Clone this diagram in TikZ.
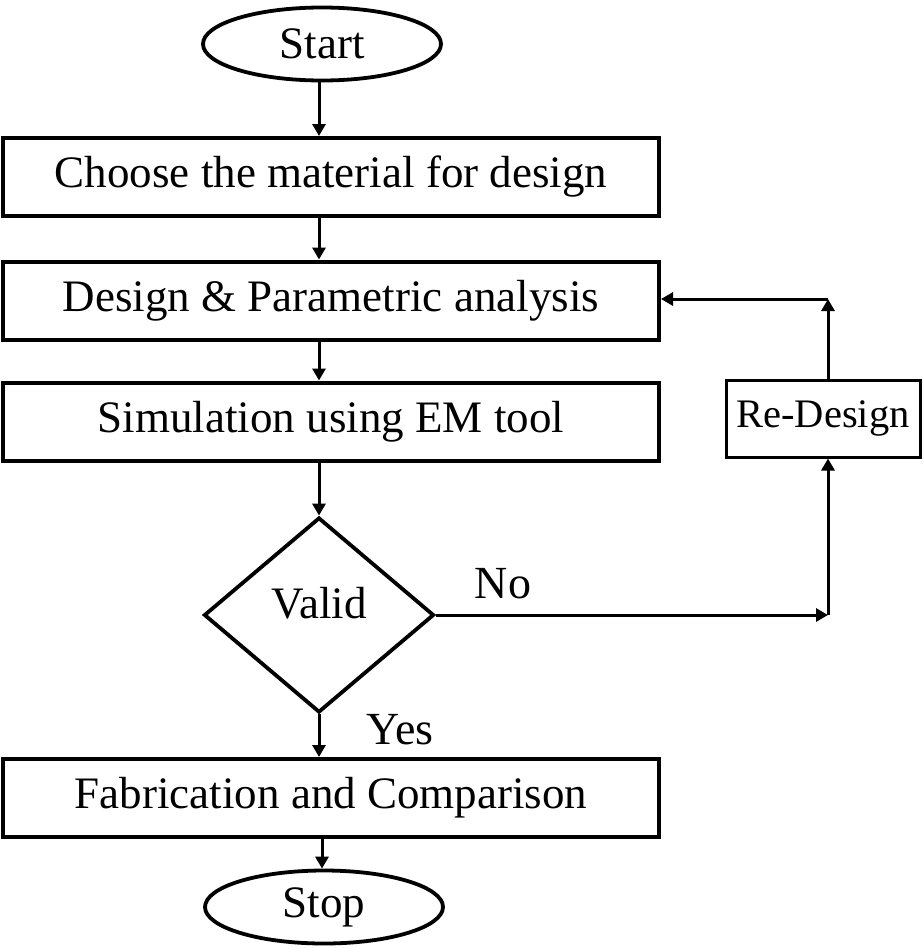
\documentclass[tikz,border=0pt]{standalone}
\usepackage{fontspec}
\setmainfont{Liberation Serif}
\usetikzlibrary{shapes.geometric,arrows.meta}

\begin{document}
\begin{tikzpicture}[x=1pt,y=-1pt,
  stepbox/.style={draw,line width=4pt,minimum width=656pt,minimum height=78pt,inner sep=0pt,font=\fontsize{45}{50}\selectfont},
  terminal/.style={draw,ellipse,line width=3.8pt,minimum width=238pt,minimum height=73pt,inner sep=0pt,font=\fontsize{45}{50}\selectfont},
  flow/.style={line width=3pt,-{Triangle[length=12pt,width=13pt]}}]
\useasboundingbox (0,0) rectangle (922,948);

% Shapes
\node[terminal] (start) at (322,44) {Start};
\node[stepbox] (material) at (331,177) {Choose the material for design};
\node[stepbox] (design) at (331,300.5) {Design \& Parametric analysis};
\node[stepbox] (simulation) at (331,421.5) {Simulation using EM tool};
\node[draw,diamond,line width=3.8pt,minimum width=230pt,minimum height=195pt,inner sep=0pt,font=\fontsize{45}{50}\selectfont] (valid) at (319,615) {\raisebox{-3pt}[0pt][0pt]{Valid}};
\node[stepbox] (fabrication) at (331,798) {Fabrication and Comparison};
\node[terminal] (stop) at (324,907) {Stop};
\node[draw,line width=3pt,minimum width=194pt,minimum height=77pt,inner sep=0pt,font=\fontsize{40.5}{45}\selectfont] (redesign) at (823,418.5) {Re-Design};

% Writing
\node[font=\fontsize{46}{50}\selectfont] (no) at (503,584) {No};
\node[font=\fontsize{46}{50}\selectfont] (yes) at (400,730) {Yes};

% Arrows
\coordinate (down) at (319,0);
\coordinate (cornerA) at (828,615);
\coordinate (cornerB) at (828,299);
\draw[flow] (start.south -| down) -- (material.north -| down);
\draw[flow] (material.south -| down) -- (design.north -| down);
\draw[flow] (design.south -| down) -- (simulation.north -| down);
\draw[flow] (simulation.south -| down) -- (valid.north);
\draw[flow] (valid.south) -- (fabrication.north -| valid.south);
\draw[flow] (fabrication.south -| stop) ++(-2,0) -- ([xshift=-2pt]stop.north);
\draw[flow] (valid.east) -- (cornerA);
\draw[flow] (cornerA) -- (cornerA |- redesign.south);
\draw[flow] (redesign.north -| cornerA) -- (cornerB);
\draw[flow] (cornerB) -- (cornerB -| design.east);
\end{tikzpicture}
\end{document}
